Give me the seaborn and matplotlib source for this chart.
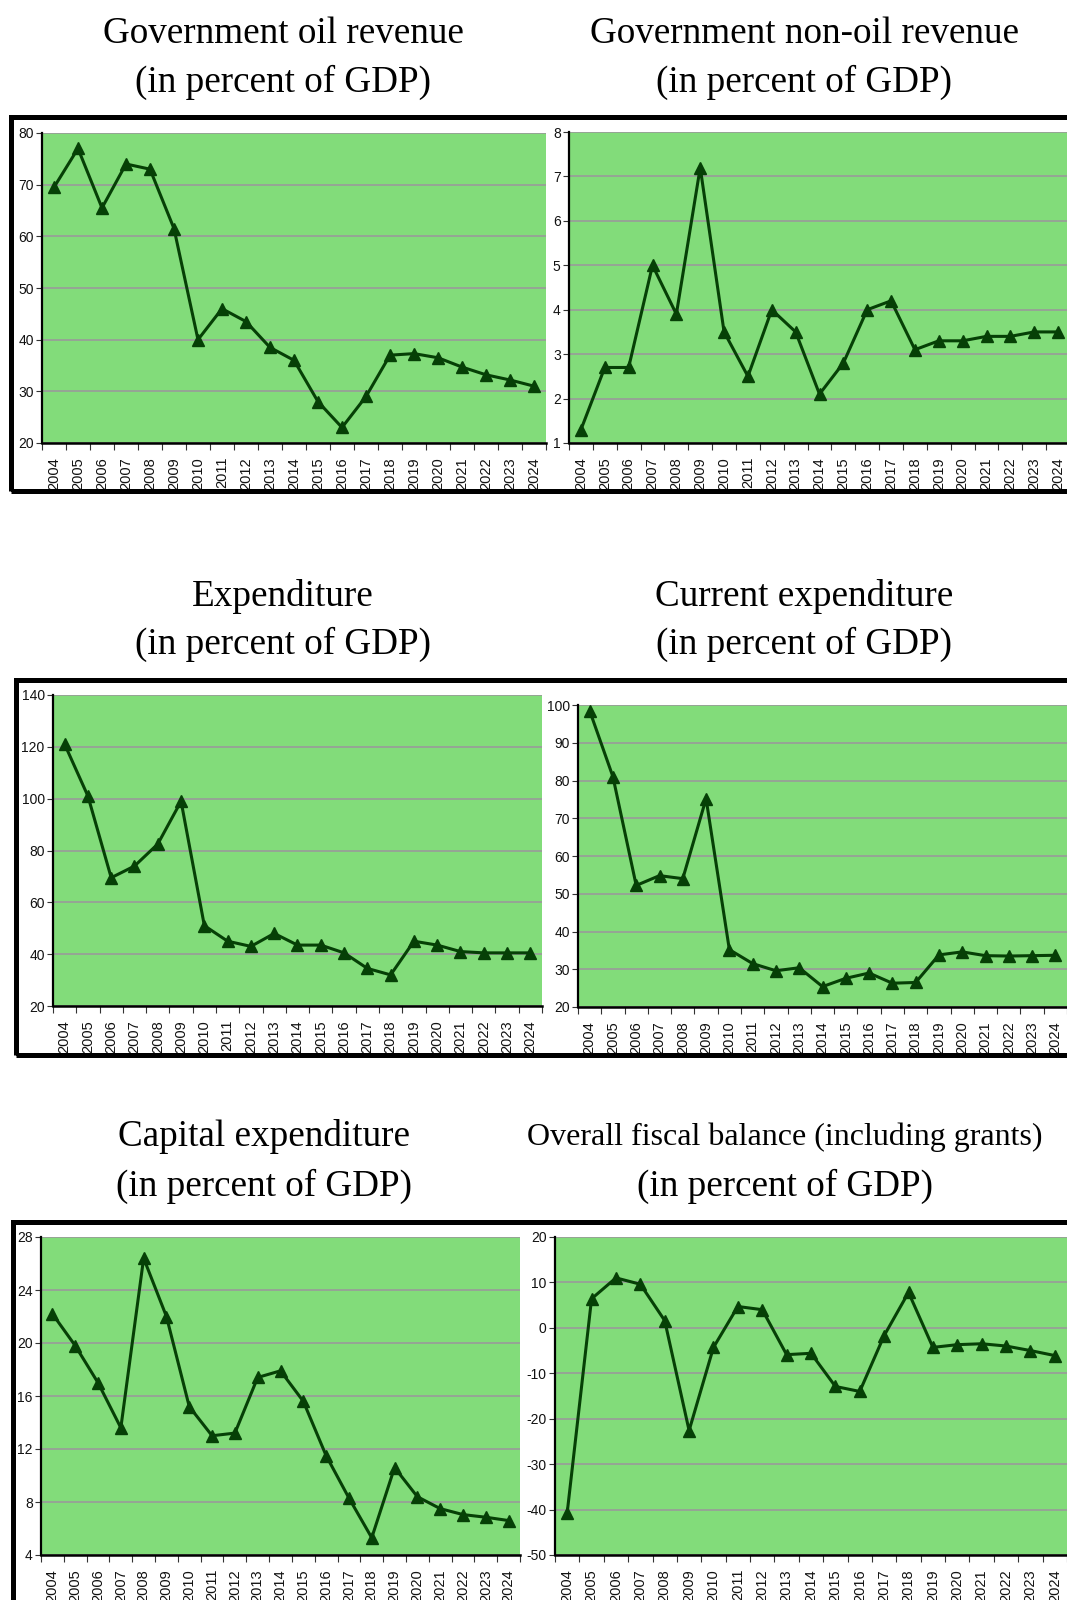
import pandas as pd
import matplotlib.pyplot as plt
from matplotlib.patches import Rectangle
import seaborn as sns

# Dados (em % do PIB), 2004-2024
years = list(range(2004, 2025))

oil_revenue = [69.5, 77.0, 65.5, 74.0, 73.0, 61.5, 40.0, 46.0, 43.5, 38.5, 36.0,
               28.0, 23.0, 29.0, 37.0, 37.3, 36.5, 34.7, 33.2, 32.2, 31.0]
nonoil_revenue = [1.3, 2.7, 2.7, 5.0, 3.9, 7.2, 3.5, 2.5, 4.0, 3.5, 2.1,
                  2.8, 4.0, 4.2, 3.1, 3.3, 3.3, 3.4, 3.4, 3.5, 3.5]
expenditure = [121.0, 101.0, 69.5, 74.0, 82.5, 99.0, 51.0, 45.0, 43.0, 48.0, 43.5,
               43.5, 40.5, 34.5, 32.0, 45.0, 43.5, 41.0, 40.5, 40.5, 40.5]
current_exp = [98.5, 81.0, 52.2, 54.8, 54.0, 75.2, 35.2, 31.5, 29.6, 30.4, 25.4,
               27.6, 29.0, 26.3, 26.5, 33.8, 34.6, 33.6, 33.5, 33.6, 33.7]
capital_exp = [22.2, 19.8, 17.0, 13.6, 26.4, 22.0, 15.2, 13.0, 13.2, 17.4, 17.9,
               15.6, 11.5, 8.3, 5.3, 10.6, 8.4, 7.5, 7.05, 6.85, 6.6]
fiscal_balance = [-40.7, 6.4, 11.0, 9.6, 1.6, -22.6, -4.3, 4.7, 4.0, -5.9, -5.6,
                  -12.9, -14.0, -1.7, 7.8, -4.3, -3.7, -3.5, -4.0, -5.0, -6.1]

ticks_oil = [20, 30, 40, 50, 60, 70, 80]
ticks_nonoil = [1, 2, 3, 4, 5, 6, 7, 8]
ticks_exp = [20, 40, 60, 80, 100, 120, 140]
ticks_current = [20, 30, 40, 50, 60, 70, 80, 90, 100]
ticks_capital = [4, 8, 12, 16, 20, 24, 28]
ticks_balance = [-50, -40, -30, -20, -10, 0, 10, 20]

titles = [
    ("Government oil revenue", "(in percent of GDP)"),
    ("Government non-oil revenue", "(in percent of GDP)"),
    ("Expenditure", "(in percent of GDP)"),
    ("Current expenditure", "(in percent of GDP)"),
    ("Capital expenditure", "(in percent of GDP)"),
    ("Overall fiscal balance (including grants)", "(in percent of GDP)"),
]
series = [oil_revenue, nonoil_revenue, expenditure, current_exp, capital_exp, fiscal_balance]
yticks = [ticks_oil, ticks_nonoil, ticks_exp, ticks_current, ticks_capital, ticks_balance]

# --- layout em pixels (origem no canto superior esquerdo)
W, H = 1067, 1600
axes_px = [(42, 133, 546, 443), (569, 132, 1070, 443),
           (53, 695, 542, 1006), (578, 705, 1067, 1007),
           (41, 1237, 520, 1555), (555, 1237, 1067, 1555)]
title_px = [(283, 34, 82, 26.7), (804, 34, 82, 26.7),
            (283, 596, 644, 26.7), (804, 596, 644, 26.7),
            (264, 1137, 1186, 26.7), (785, 1137, 1186, 23)]
frames_px = [(10.5, 116.5, 1100, 490.5), (15.5, 679.5, 1100, 1054.5),
             (12.5, 1221.5, 1100, 1700)]

GREEN = "#82DC7A"
LINE = "#064006"

sns.set_style("white")
plt.rcParams['font.family'] = ['Liberation Sans', 'DejaVu Sans']
plt.rcParams['axes.unicode_minus'] = False

fig = plt.figure(figsize=(W / 100, H / 100), dpi=100)


def frac(x0, y0, x1, y1):
    return [x0 / W, 1 - y1 / H, (x1 - x0) / W, (y1 - y0) / H]


for i in range(6):
    ax = fig.add_axes(frac(*axes_px[i]))
    df = pd.DataFrame({"pos": range(len(years)), "value": series[i]})
    sns.lineplot(data=df, x="pos", y="value", ax=ax, color=LINE, linewidth=2.2,
                 marker="^", markersize=9, markeredgecolor=LINE, markeredgewidth=1)

    ax.set_facecolor(GREEN)
    ax.set_xlim(-0.5, len(years) - 0.5)
    ax.set_ylim(yticks[i][0], yticks[i][-1])
    ax.set_yticks(yticks[i])
    ax.set_xticks(range(len(years)))
    ax.set_xticklabels([str(y) for y in years], rotation=90)
    ax.set_xticks([p - 0.5 for p in range(len(years) + 1)], minor=True)
    ax.set_xlabel("")
    ax.set_ylabel("")

    ax.grid(axis="y", color="#9a9a9a", linewidth=1.2)
    ax.set_axisbelow(True)
    for s in ["top", "right"]:
        ax.spines[s].set_visible(False)
    ax.spines["left"].set_linewidth(1.6)
    ax.spines["bottom"].set_linewidth(1.8)
    ax.spines["left"].set_color("black")
    ax.spines["bottom"].set_color("black")

    ax.tick_params(axis="y", left=True, length=4, width=0.8, color="#333333",
                   labelsize=10, pad=2, labelcolor="#111111")
    ax.tick_params(axis="x", which="major", length=0, pad=10,
                   labelsize=10.5, labelcolor="#111111")
    ax.tick_params(axis="x", which="minor", bottom=True, length=5, width=0.8,
                   color="#333333")

    tx, ty1, ty2, fs = title_px[i]
    fig.text(tx / W, 1 - ty1 / H, titles[i][0], ha="center", va="center",
             fontsize=fs, family="Liberation Serif", color="black")
    fig.text(tx / W, 1 - ty2 / H, titles[i][1], ha="center", va="center",
             fontsize=26.7, family="Liberation Serif", color="black")

# molduras pretas em volta de cada linha de graficos
for x0, y0, x1, y1 in frames_px:
    fig.add_artist(Rectangle((x0 / W, 1 - y1 / H), (x1 - x0) / W, (y1 - y0) / H,
                             transform=fig.transFigure, fill=False,
                             edgecolor="black", linewidth=3.6))

fig.savefig("out.png", dpi=100)
